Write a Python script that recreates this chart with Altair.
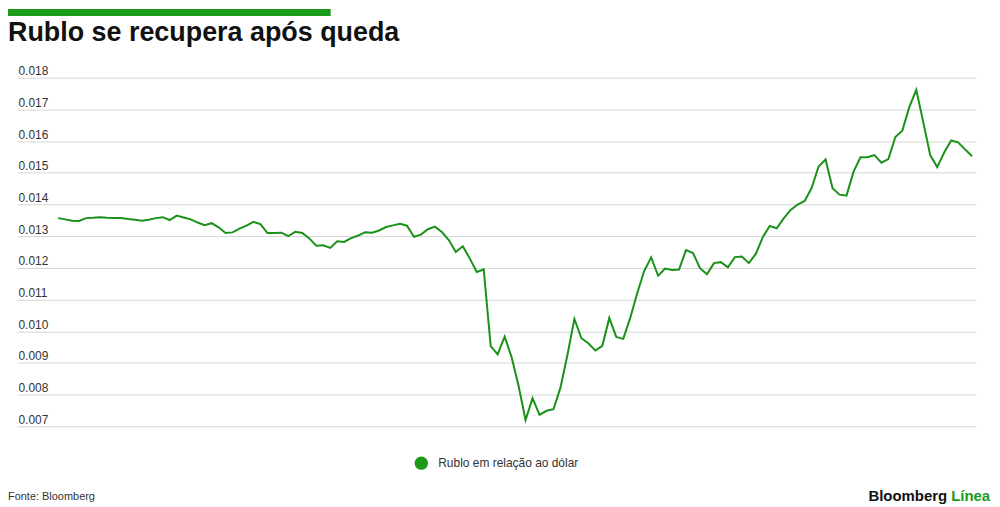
import altair as alt
import pandas as pd

title_text = "Rublo se recupera após queda"
series_name = "Rublo em relação ao dólar"
source_text = "Fonte: Bloomberg"
brand_a = "Bloomberg"
brand_b = "Línea"

rub_usd = [
    0.01357, 0.01353, 0.01349, 0.01348, 0.01357, 0.01358, 0.01360, 0.01358, 0.01357, 0.01357,
    0.01354, 0.01352, 0.01349, 0.01352, 0.01357, 0.01360, 0.01351, 0.01365, 0.01359, 0.01353,
    0.01343, 0.01335, 0.01341, 0.01328, 0.01310, 0.01312, 0.01324, 0.01333, 0.01345, 0.01338,
    0.01310, 0.01310, 0.01311, 0.01300, 0.01314, 0.01310, 0.01293, 0.01270, 0.01271, 0.01263,
    0.01284, 0.01282, 0.01294, 0.01302, 0.01312, 0.01311, 0.01318, 0.01329, 0.01334, 0.01339,
    0.01333, 0.01298, 0.01305, 0.01322, 0.01330, 0.01313, 0.01288, 0.01250, 0.01268, 0.01230,
    0.01187, 0.01195, 0.00953, 0.00927, 0.00983, 0.00918, 0.00827, 0.00720, 0.00789, 0.00736,
    0.00749, 0.00754, 0.00822, 0.00925, 0.01039, 0.00978, 0.00962, 0.00939, 0.00954, 0.01042,
    0.00982, 0.00976, 0.01042, 0.01120, 0.01190, 0.01233, 0.01175, 0.01198, 0.01193, 0.01195,
    0.01256, 0.01247, 0.01199, 0.01180, 0.01215, 0.01218, 0.01202, 0.01234, 0.01236, 0.01215,
    0.01244, 0.01297, 0.01332, 0.01325, 0.01356, 0.01383, 0.01400, 0.01411, 0.01452, 0.01520,
    0.01542, 0.01451, 0.01431, 0.01428, 0.01503, 0.01549, 0.01549, 0.01556, 0.01532, 0.01543,
    0.01613, 0.01633, 0.01707, 0.01762, 0.01660, 0.01556, 0.01518, 0.01564, 0.01602, 0.01596,
    0.01574, 0.01552,
]
y_ticks = [0.007, 0.008, 0.009, 0.010, 0.011, 0.012, 0.013, 0.014, 0.015, 0.016, 0.017, 0.018]

GREEN = "#1c9a1c"
LINE_GREEN = "#1a9119"
FONT = "Liberation Sans"

n = len(rub_usd)
df = pd.DataFrame({"i": list(range(n)), "v": rub_usd, "s": [series_name] * n})

W, H = 963, 350

line = alt.Chart(df).mark_line(strokeWidth=2).encode(
    x=alt.X("i:Q", axis=None,
            scale=alt.Scale(domain=[-5.9, n - 1 + 0.57], nice=False, zero=False)),
    y=alt.Y("v:Q",
            scale=alt.Scale(domain=[0.007, 0.018], nice=False, zero=False),
            axis=alt.Axis(values=y_ticks, format=".3f", title=None, domain=False,
                          ticks=False, tickSize=0, labelAlign="left",
                          labelBaseline="alphabetic", labelPadding=-1, labelOffset=-3,
                          labelFontSize=12, labelColor="#333333", labelFont=FONT,
                          labelOverlap=False, labelFlush=False,
                          gridColor="#d6d6d6", gridWidth=1)),
    color=alt.Color("s:N", scale=alt.Scale(range=[LINE_GREEN]),
                    legend=alt.Legend(title=None, orient="none", legendX=399, legendY=380,
                                      symbolType="circle", symbolSize=180,
                                      symbolFillColor=GREEN, symbolStrokeColor=GREEN,
                                      symbolStrokeWidth=0, symbolOpacity=1,
                                      labelFontSize=12, labelColor="#333333",
                                      labelFont=FONT, labelOffset=10)),
)


def txt(s, x, y, size, weight, color, align="left"):
    return alt.Chart(pd.DataFrame({"t": [s]})).mark_text(
        align=align, baseline="alphabetic", fontSize=size, fontWeight=weight,
        color=color, font=FONT
    ).encode(text="t:N", x=alt.value(x), y=alt.value(y))


bar = alt.Chart(pd.DataFrame({"a": [0]})).mark_rect(color=GREEN).encode(
    x=alt.value(-9), x2=alt.value(315), y=alt.value(-69), y2=alt.value(-62)
)

title = txt(title_text, -9, -37, 27, "bold", "#111111")
source = txt(source_text, -9, 424, 11, "normal", "#333333")
logo_a = txt(brand_a, 934, 425, 15, "bold", "#111111", align="right")
logo_b = txt(brand_b, 938, 425, 15, "bold", GREEN)

chart = alt.layer(line, bar, title, source, logo_a, logo_b).properties(
    width=W, height=H,
    autosize=alt.AutoSizeParams(type="none"),
    padding={"left": 9, "top": 69, "right": 16, "bottom": 80},
).configure_view(stroke=None)

chart.save("out.html", embed_options={"renderer": "svg", "actions": False})
